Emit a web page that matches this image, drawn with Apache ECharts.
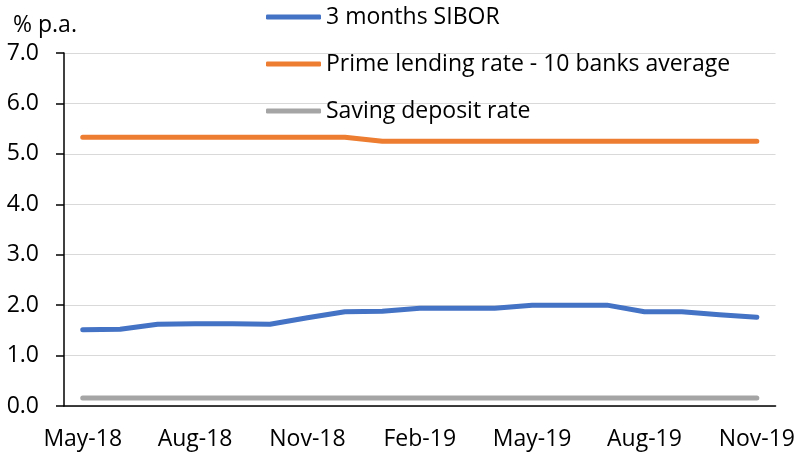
<!DOCTYPE html>
<html>
<head>
<meta charset="utf-8">
<script src="https://cdn.jsdelivr.net/npm/echarts@6/dist/echarts.min.js"></script>
<style>
  html, body { margin: 0; padding: 0; background: #fff; }
  #chart { width: 798px; height: 453px; }
</style>
</head>
<body>
<div id="chart"></div>
<script>
var months = ['May-18', 'Jun-18', 'Jul-18', 'Aug-18', 'Sep-18', 'Oct-18', 'Nov-18', 'Dec-18',
    'Jan-19', 'Feb-19', 'Mar-19', 'Apr-19', 'May-19', 'Jun-19', 'Jul-19', 'Aug-19', 'Sep-19', 'Oct-19', 'Nov-19'];
var sibor = [1.51, 1.52, 1.62, 1.63, 1.63, 1.62, 1.75, 1.87, 1.88, 1.94, 1.94, 1.94, 2.00, 2.00, 2.00, 1.87, 1.87, 1.81, 1.76];
var prime = [5.33, 5.33, 5.33, 5.33, 5.33, 5.33, 5.33, 5.33, 5.25, 5.25, 5.25, 5.25, 5.25, 5.25, 5.25, 5.25, 5.25, 5.25, 5.25];
var saving = [0.16, 0.16, 0.16, 0.16, 0.16, 0.16, 0.16, 0.16, 0.16, 0.16, 0.16, 0.16, 0.16, 0.16, 0.16, 0.16, 0.16, 0.16, 0.16];
var names = ['3 months SIBOR', 'Prime lending rate - 10 banks average', 'Saving deposit rate'];
var colors = ['#4472C4', '#ED7D31', '#A5A5A5'];

var font = 'Open Sans';
var chart = echarts.init(document.getElementById('chart'));

function lineSeries(name, data, color) {
    return {
        name: name, type: 'line', data: data, symbol: 'none', z: 3,
        lineStyle: { color: color, width: 5, cap: 'round', join: 'round' },
        itemStyle: { color: color }
    };
}

var option = {
    animation: false,
    color: colors,
    title: {
        text: '% p.a.', left: 8, top: 9,
        textStyle: { fontFamily: font, fontSize: 23, fontWeight: 'normal', color: '#000' }
    },
    legend: {
        data: names, orient: 'vertical', left: 261, top: -3,
        itemWidth: 55, itemHeight: 5, itemGap: 17, icon: 'roundRect',
        textStyle: { fontFamily: font, fontSize: 23, color: '#000', lineHeight: 30 }
    },
    grid: { left: 64, right: 22, top: 53, bottom: 47, containLabel: false },
    xAxis: {
        type: 'category', data: months, boundaryGap: true,
        axisLine: { lineStyle: { color: '#000', width: 1.5 } },
        axisTick: { interval: 2, length: 9, lineStyle: { color: '#000', width: 1.5 } },
        axisLabel: { interval: 2, margin: 22, fontFamily: font, fontSize: 23, color: '#000' },
        splitLine: { show: false }
    },
    yAxis: {
        type: 'value', min: 0, max: 7, interval: 1,
        axisLine: { show: true, lineStyle: { color: '#000', width: 1.5 } },
        axisTick: { show: true, length: 8, lineStyle: { color: '#000', width: 1.5 } },
        axisLabel: { margin: 25, padding: [4, 0, 0, 0], fontFamily: font, fontSize: 23, color: '#000',
            formatter: function (v) { return v.toFixed(1); } },
        splitLine: { show: true, lineStyle: { color: '#D9D9D9', width: 1.2 } }
    },
    series: [
        lineSeries(names[0], sibor, colors[0]),
        lineSeries(names[1], prime, colors[1]),
        lineSeries(names[2], saving, colors[2])
    ]
};
chart.setOption(option);
</script>
</body>
</html>
